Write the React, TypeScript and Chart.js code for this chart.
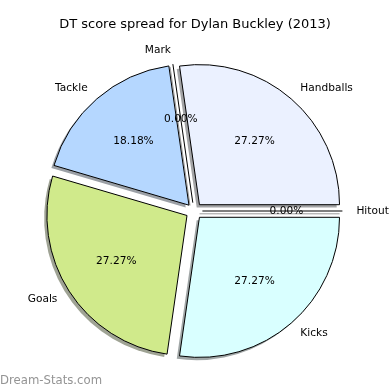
import React, { useEffect, useRef } from "react";
import { Chart, registerables } from "chart.js";

Chart.register(...registerables);

const TITLE = "DT score spread for Dylan Buckley (2013)";
const WATERMARK = "Dream-Stats.com";
// Listed clockwise starting at 3 o'clock
const CATEGORIES = ["Kicks", "Goals", "Tackle", "Mark", "Handballs", "Hitout"];
const SCORES = [3, 3, 2, 0, 3, 0];
const COLORS = ["#d9ffff", "#d0ea8b", "#b5d7ff", "#ffffff", "#ebf1ff", "#ffffff"];

const RADIUS = 140;
const EXPL = 8.4;
const SHADOW_DX = -2.8;
const SHADOW_DY = 2.8;
const FONT = "'DejaVu Sans', 'Liberation Sans', sans-serif";

function shadowColor(hex: string): string {
  const n = parseInt(hex.slice(1), 16);
  const r = (n >> 16) & 255, g = (n >> 8) & 255, b = n & 255;
  const f = (c: number) => Math.round(127.5 + 0.15 * c);
  return `rgb(${f(r)},${f(g)},${f(b)})`;
}

const total = SCORES.reduce((a, b) => a + b, 0);

const extrasPlugin = {
  id: "pieExtras",
  beforeDatasetsDraw(chart: any) {
    const ctx = chart.ctx;
    const meta = chart.getDatasetMeta(0);
    meta.data.forEach((arc: any, i: number) => {
      const p = arc.getProps(["x", "y", "startAngle", "endAngle", "outerRadius"], true);
      const half = (p.startAngle + p.endAngle) / 2;
      const cx = p.x + Math.cos(half) * EXPL + SHADOW_DX;
      const cy = p.y + Math.sin(half) * EXPL + SHADOW_DY;
      ctx.save();
      if (p.endAngle - p.startAngle > 1e-9) {
        ctx.beginPath();
        ctx.moveTo(cx, cy);
        ctx.arc(cx, cy, p.outerRadius, p.startAngle, p.endAngle);
        ctx.closePath();
        ctx.fillStyle = shadowColor(COLORS[i]);
        ctx.fill();
      } else {
        ctx.beginPath();
        ctx.moveTo(cx, cy);
        ctx.lineTo(cx + Math.cos(half) * p.outerRadius, cy + Math.sin(half) * p.outerRadius);
        ctx.strokeStyle = "#9a9a9a";
        ctx.lineWidth = 1;
        ctx.stroke();
      }
      ctx.restore();
    });
  },
  afterDatasetsDraw(chart: any) {
    const ctx = chart.ctx;
    const meta = chart.getDatasetMeta(0);
    ctx.save();
    // zero-size slices drawn as lines
    meta.data.forEach((arc: any) => {
      const p = arc.getProps(["x", "y", "startAngle", "endAngle", "outerRadius"], true);
      if (p.endAngle - p.startAngle > 1e-9) return;
      const half = p.startAngle;
      const cx = p.x + Math.cos(half) * EXPL;
      const cy = p.y + Math.sin(half) * EXPL;
      ctx.beginPath();
      ctx.moveTo(cx, cy);
      ctx.lineTo(cx + Math.cos(half) * p.outerRadius, cy + Math.sin(half) * p.outerRadius);
      ctx.strokeStyle = "#000";
      ctx.lineWidth = 1;
      ctx.stroke();
    });
    ctx.fillStyle = "#000";
    meta.data.forEach((arc: any, i: number) => {
      const p = arc.getProps(["x", "y", "startAngle", "endAngle", "outerRadius"], true);
      const half = (p.startAngle + p.endAngle) / 2;
      const ex = p.x + Math.cos(half) * EXPL;
      const ey = p.y + Math.sin(half) * EXPL;
      const c = Math.cos(half), s = Math.sin(half);
      ctx.font = `10.6px ${FONT}`;
      ctx.textBaseline = "middle";
      // category label
      ctx.textAlign = c >= -1e-9 ? "left" : "right";
      ctx.fillText(CATEGORIES[i], ex + c * 1.1 * p.outerRadius, ey + s * 1.1 * p.outerRadius);
      // percentage
      ctx.textAlign = "center";
      const pct = ((SCORES[i] / total) * 100).toFixed(2) + "%";
      ctx.fillText(pct, ex + c * 0.6 * p.outerRadius, ey + s * 0.6 * p.outerRadius);
    });
    // title
    ctx.font = `13px ${FONT}`;
    ctx.textAlign = "center";
    ctx.textBaseline = "middle";
    ctx.fillText(TITLE, 195, 25);
    // watermark
    ctx.font = `11.7px ${FONT}`;
    ctx.fillStyle = "#949494";
    ctx.textAlign = "left";
    ctx.fillText(WATERMARK, 0, 381);
    ctx.restore();
  },
};

export default function App() {
  const ref = useRef<HTMLCanvasElement | null>(null);
  useEffect(() => {
    document.body.style.margin = "0";
    const canvas = ref.current;
    if (!canvas) return;
    const chart = new Chart(canvas, {
      type: "pie",
      data: {
        labels: CATEGORIES,
        datasets: [
          {
            data: SCORES,
            backgroundColor: COLORS,
            borderColor: "#000",
            borderWidth: 1,
            borderJoinStyle: "miter",
            offset: (c: any) => {
              const v = c.raw as number;
              const circ = (v / total) * Math.PI * 2;
              const fix = 1 - Math.sin(Math.min(Math.PI, circ));
              return (4 * EXPL) / (1 + fix);
            },
          } as any,
        ],
      },
      options: {
        responsive: false,
        animation: false,
        rotation: 90,
        radius: RADIUS,
        layout: { padding: { top: 32, bottom: 0, left: 0, right: 2 } },
        plugins: {
          legend: { display: false },
          tooltip: { enabled: false },
          title: { display: false },
        },
      } as any,
      plugins: [extrasPlugin],
    });
    return () => chart.destroy();
  }, []);
  return (
    <div style={{ position: "absolute", left: 0, top: 0, width: 390, height: 390, background: "#fff" }}>
      <canvas ref={ref} width={390} height={390} />
    </div>
  );
}
